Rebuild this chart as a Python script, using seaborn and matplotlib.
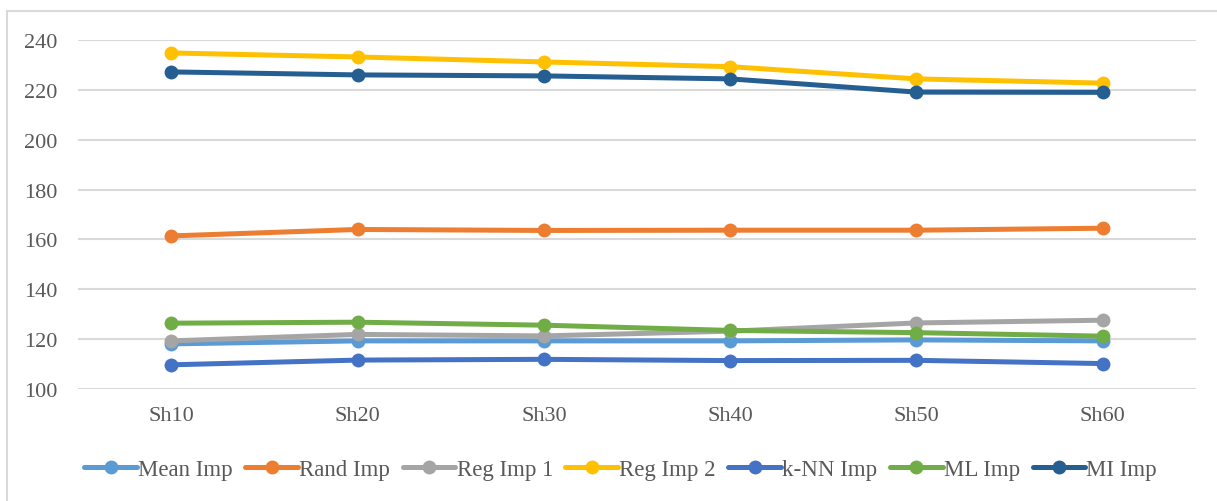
import matplotlib
matplotlib.use("Agg")
import matplotlib.pyplot as plt
import matplotlib.patches as mpatches
import seaborn as sns
import pandas as pd

categories = ["Sh10", "Sh20", "Sh30", "Sh40", "Sh50", "Sh60"]
series_names = ["Mean Imp", "Rand Imp", "Reg Imp 1", "Reg Imp 2", "k-NN Imp", "ML Imp", "MI Imp"]
mean_imp = [118.1, 119.3, 119.3, 119.3, 119.7, 119.3]
rand_imp = [161.4, 164.0, 163.6, 163.7, 163.7, 164.5]
reg_imp_1 = [119.3, 121.9, 121.3, 123.2, 126.5, 127.6]
reg_imp_2 = [234.8, 233.2, 231.2, 229.3, 224.4, 222.7]
knn_imp = [109.7, 111.6, 111.9, 111.4, 111.5, 110.2]
ml_imp = [126.4, 126.8, 125.6, 123.5, 122.6, 121.2]
mi_imp = [227.2, 226.0, 225.6, 224.4, 219.1, 219.0]
y_ticks = [100, 120, 140, 160, 180, 200, 220, 240]

colors = ["#5B9BD5", "#ED7D31", "#A5A5A5", "#FFC000", "#4472C4", "#70AD47", "#255E91"]

values = [mean_imp, rand_imp, reg_imp_1, reg_imp_2, knn_imp, ml_imp, mi_imp]
rows = []
for name, vals in zip(series_names, values):
    for cat, v in zip(categories, vals):
        rows.append({"category": cat, "value": v, "series": name})
df = pd.DataFrame(rows)

sns.set_theme(style="white")
plt.rcParams["font.family"] = ["Liberation Serif", "DejaVu Serif"]
text_color = "#595959"

fig = plt.figure(figsize=(12.17, 5.02), dpi=100)
ax = fig.add_axes([78 / 1217, 1 - 390 / 502, (1196 - 78) / 1217, (390 - 41) / 502])

sns.lineplot(
    data=df, x="category", y="value", hue="series",
    hue_order=series_names, palette=colors,
    marker="o", markersize=10, markeredgewidth=0,
    linewidth=3.6, ax=ax, legend=False, sort=False,
)

ax.set_xlim(-0.5, len(categories) - 0.5)
ax.set_ylim(100, 240)
ax.set_yticks(y_ticks)
ax.set_xlabel("")
ax.set_ylabel("")
ax.grid(axis="y", color="#D9D9D9", linewidth=1.5)
ax.grid(axis="x", visible=False)
ax.set_axisbelow(True)
for s in ax.spines.values():
    s.set_visible(False)
ax.tick_params(axis="both", length=0, labelsize=16, colors=text_color)
ax.tick_params(axis="y", pad=15)
ax.tick_params(axis="x", pad=12)
for lbl in ax.get_yticklabels() + ax.get_xticklabels():
    lbl.set_color(text_color)

# outer chart frame
frame = mpatches.Rectangle((7 / 1217, -0.05), 1.1, 1 - 12 / 502 + 0.05,
                           transform=fig.transFigure, fill=False,
                           edgecolor="#D9D9D9", linewidth=1.5)
fig.patches.append(frame)

handles = [plt.Line2D([], [], color=c, linewidth=3.6, marker="o", markersize=10,
                      markeredgewidth=0) for c in colors]
fig.legend(handles, series_names, loc="center", ncol=7,
           bbox_to_anchor=(0.51, 1 - 470 / 502), frameon=False,
           fontsize=16.5, labelcolor=text_color, handlelength=2.3,
           handletextpad=0.05, columnspacing=0.55)

fig.savefig("out.png", dpi=100)
